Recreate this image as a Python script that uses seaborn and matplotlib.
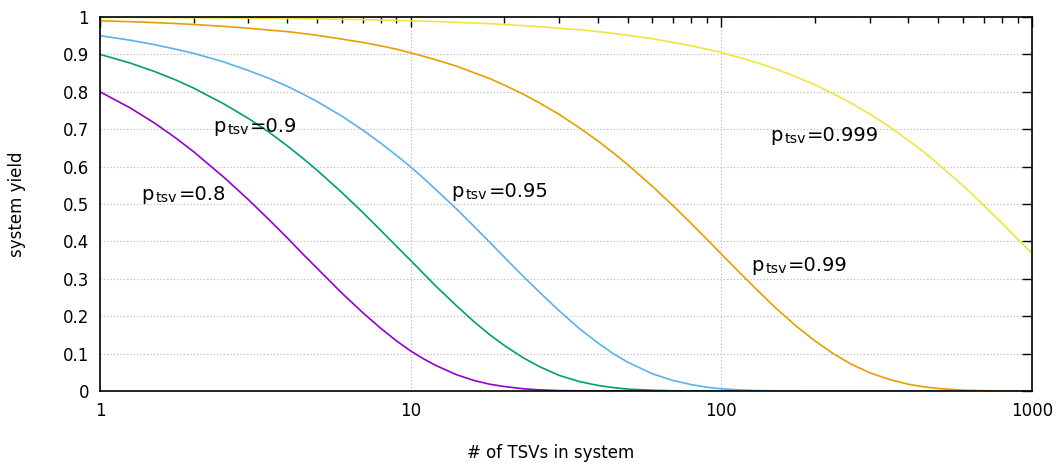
import numpy as np
import pandas as pd
import matplotlib
matplotlib.use('Agg')
import matplotlib.pyplot as plt
import seaborn as sns
from matplotlib.ticker import FixedLocator, LogLocator, NullFormatter

n_tsv = [1, 1.25, 1.5, 1.75, 2, 2.5, 3, 3.5, 4, 4.5, 5, 6, 7, 8, 9, 10, 11, 12, 14, 16,
         18, 20, 23, 26, 30, 35, 40, 45, 50, 60, 70, 80, 90, 100, 115, 130, 150, 175, 200,
         230, 260, 300, 350, 400, 450, 500, 600, 700, 800, 900, 1000]

yield_080 = [0.800, 0.757, 0.716, 0.677, 0.640, 0.572, 0.512, 0.458, 0.410, 0.366, 0.328,
             0.262, 0.210, 0.168, 0.134, 0.107, 0.086, 0.069, 0.044, 0.028,
             0.018, 0.012, 0.006, 0.003, 0.001, 0.0004, 0.0001, 0, 0, 0, 0, 0, 0, 0, 0, 0,
             0, 0, 0, 0, 0, 0, 0, 0, 0, 0, 0, 0, 0, 0, 0]
yield_090 = [0.900, 0.877, 0.854, 0.832, 0.810, 0.768, 0.729, 0.692, 0.656, 0.622, 0.590,
             0.531, 0.478, 0.430, 0.387, 0.349, 0.314, 0.282, 0.229, 0.185,
             0.150, 0.122, 0.089, 0.065, 0.042, 0.025, 0.015, 0.009, 0.005, 0.002, 0.0006,
             0.0002, 0, 0, 0, 0, 0, 0, 0, 0, 0, 0, 0, 0, 0, 0, 0, 0, 0, 0, 0]
yield_095 = [0.950, 0.938, 0.926, 0.914, 0.903, 0.880, 0.857, 0.836, 0.815, 0.794, 0.774,
             0.735, 0.698, 0.663, 0.630, 0.599, 0.569, 0.540, 0.488, 0.440,
             0.397, 0.358, 0.307, 0.264, 0.215, 0.166, 0.129, 0.099, 0.077, 0.046, 0.028,
             0.017, 0.0099, 0.0059, 0.0027, 0.0013, 0.0005, 0.0001, 0, 0, 0, 0, 0, 0, 0,
             0, 0, 0, 0, 0, 0]
yield_099 = [0.990, 0.9875, 0.985, 0.9826, 0.980, 0.975, 0.970, 0.965, 0.961, 0.956, 0.951,
             0.941, 0.932, 0.923, 0.914, 0.904, 0.895, 0.886, 0.869, 0.851,
             0.835, 0.818, 0.794, 0.770, 0.740, 0.703, 0.669, 0.636, 0.605, 0.547, 0.495,
             0.448, 0.405, 0.366, 0.315, 0.271, 0.221, 0.172, 0.134, 0.099, 0.073, 0.049,
             0.030, 0.018, 0.011, 0.0066, 0.0024, 0.0009, 0.0003, 0.0001, 0]
yield_0999 = [0.999, 0.99875, 0.9985, 0.99825, 0.998, 0.9975, 0.997, 0.9965, 0.996, 0.9955,
              0.995, 0.994, 0.993, 0.992, 0.991, 0.990, 0.989, 0.988, 0.986, 0.984,
              0.982, 0.980, 0.977, 0.974, 0.970, 0.966, 0.961, 0.956, 0.951, 0.942, 0.932,
              0.923, 0.914, 0.905, 0.891, 0.878, 0.861, 0.839, 0.819, 0.794, 0.771, 0.741,
              0.705, 0.670, 0.638, 0.606, 0.549, 0.496, 0.449, 0.406, 0.368]

series_names = ['0.8', '0.9', '0.95', '0.99', '0.999']
series_vals = [yield_080, yield_090, yield_095, yield_099, yield_0999]
colors = ['#9400d3', '#009e73', '#56b4e9', '#e69f00', '#f0e442']

# label anchor points (x, baseline y) per curve
label_pos = {'0.8': (1.361, 0.511), '0.9': (2.316, 0.693), '0.95': (13.55, 0.5195),
             '0.99': (124.6, 0.321), '0.999': (143.4, 0.668)}

df = pd.concat([pd.DataFrame({'n': n_tsv, 'yield': v, 'p': name})
                for name, v in zip(series_names, series_vals)])

sns.set_style('white')
plt.rcParams['font.family'] = ['DejaVu Sans']
plt.rcParams['text.color'] = 'black'
plt.rcParams['axes.labelcolor'] = 'black'
plt.rcParams['xtick.color'] = 'black'
plt.rcParams['ytick.color'] = 'black'

fig = plt.figure(figsize=(10.63, 4.63), dpi=100)
ax = fig.add_axes([100/1063, 1 - 391/463, 932/1063, 374/463])

sns.lineplot(data=df, x='n', y='yield', hue='p', palette=colors, legend=False,
             linewidth=1.2, ax=ax)

# "p", subscript "tsv", then "=value", placed as separate pieces
for name in series_names:
    x, y = label_pos[name]
    ax.annotate('p', (x, y), xytext=(0, 0), textcoords='offset points',
                fontsize=14, va='baseline', ha='left')
    ax.annotate('tsv', (x, y), xytext=(10.2, -1.5), textcoords='offset points',
                fontsize=10.2, va='baseline', ha='left')
    ax.annotate('=' + name, (x, y), xytext=(26.6, 0), textcoords='offset points',
                fontsize=14, va='baseline', ha='left')

ax.set_xscale('log')
ax.set_xlim(1, 1000)
ax.set_ylim(0, 1)
ax.xaxis.set_major_locator(FixedLocator([1, 10, 100, 1000]))
ax.set_xticklabels(['1', '10', '100', '1000'])
ax.xaxis.set_minor_locator(LogLocator(base=10, subs=np.arange(2, 10)))
ax.xaxis.set_minor_formatter(NullFormatter())
ax.set_yticks(np.arange(0, 1.01, 0.1))
ax.set_yticklabels(['0', '0.1', '0.2', '0.3', '0.4', '0.5', '0.6', '0.7', '0.8', '0.9', '1'])

ax.grid(True, which='major', color='#b4b4b4', linestyle=(0, (1, 2)), linewidth=0.8)
ax.tick_params(which='major', direction='in', length=7, width=1, top=True, right=True,
               labelsize=12, pad=8)
ax.tick_params(which='minor', direction='in', length=4, width=1, top=True, right=True)
ax.tick_params(axis='y', which='minor', left=False, right=False)
for s in ax.spines.values():
    s.set_color('black')
    s.set_linewidth(1.2)

ax.set_xlabel('# of TSVs in system', fontsize=12)
ax.set_ylabel('system yield', fontsize=12)
ax.xaxis.set_label_coords((551 - 100) / 932, -0.142)
ax.yaxis.set_label_coords(-0.0794, 0.5)

fig.savefig('out.png', dpi=100)
